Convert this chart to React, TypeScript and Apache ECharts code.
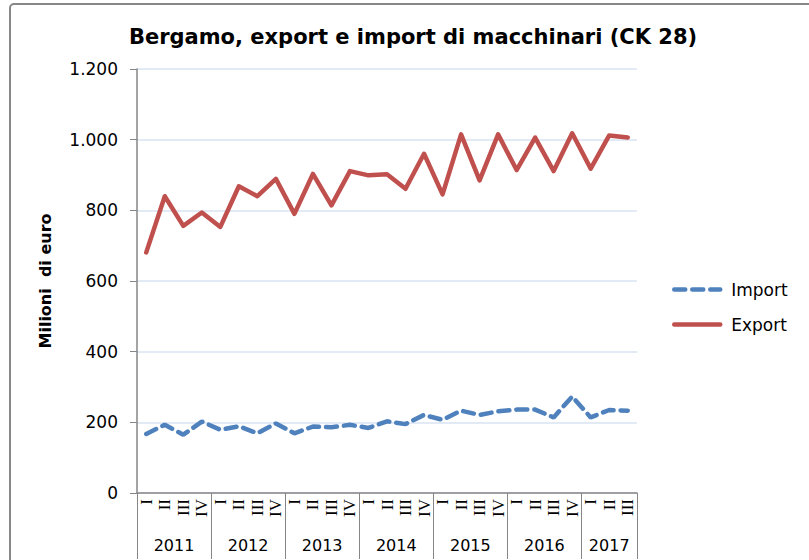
import React, { useEffect, useRef } from "react";
import * as echarts from "echarts";

const quarters = [
  "I","II","III","IV","I","II","III","IV","I","II","III","IV","I","II","III","IV",
  "I","II","III","IV","I","II","III","IV","I","II","III",
];
const years = ["2011", "2012", "2013", "2014", "2015", "2016", "2017"];
const yearBounds = [0, 4, 8, 12, 16, 20, 24, 27];
const importValues = [167,193,165,202,179,189,169,197,169,188,186,193,184,203,195,221,207,233,221,231,236,236,214,273,214,235,233];
const exportValues = [681,840,756,794,753,868,840,889,790,903,814,911,899,902,861,960,845,1015,885,1015,914,1006,911,1018,918,1012,1006];

const fmt = (v: number) => String(v).replace(/\B(?=(\d{3})+(?!\d))/g, ".");

export default function App() {
  const ref = useRef<HTMLDivElement>(null);
  useEffect(() => {
    const chart = echarts.init(ref.current!, null, { renderer: "svg" });
    const yearCenters = years.map((_, i) => (yearBounds[i] + yearBounds[i + 1]) / 2);
    chart.setOption({
      animation: false,
      backgroundColor: "#fff",
      title: {
        text: "Bergamo, export e import di macchinari (CK 28)",
        left: 408,
        textAlign: "center",
        top: 21,
        textStyle: { fontFamily: "DejaVu Sans", fontWeight: "bold", fontSize: 21, color: "#000" },
      },
      graphic: [
        {
          type: "rect",
          shape: { x: 10, y: 4, width: 900, height: 700, r: 4 },
          style: { fill: "none", stroke: "#888", lineWidth: 2 },
          silent: true,
        },
      ],
      legend: {
        orient: "vertical",
        left: 667,
        top: 276,
        itemWidth: 46,
        itemHeight: 14,
        itemGap: 18,
        itemStyle: { opacity: 0 },
        lineStyle: { width: 4.5 },
        textStyle: { fontFamily: "DejaVu Sans", fontSize: 17, color: "#000", padding: [0, 0, 0, 6] },
        data: ["Import", "Export"],
      },
      grid: { left: 137, right: 172, top: 69, bottom: 67, containLabel: false },
      xAxis: [
        {
          type: "category",
          data: quarters,
          boundaryGap: true,
          axisLine: { lineStyle: { color: "#868686", width: 1.5 } },
          axisTick: { interval: 0, length: 28, lineStyle: { color: "#868686" } },
          axisLabel: {
            interval: 0,
            rotate: 90,
            margin: 6,
            fontFamily: "Liberation Serif",
            fontSize: 17,
            color: "#000",
          },
        },
        {
          type: "value",
          min: 0,
          max: 27,
          position: "bottom",
          axisLine: { show: false },
          splitLine: { show: false },
          axisTick: {
            show: true,
            length: 66,
            customValues: yearBounds,
            lineStyle: { color: "#868686" },
          },
          axisLabel: {
            customValues: yearCenters,
            margin: 44,
            fontFamily: "DejaVu Sans",
            fontSize: 16,
            color: "#000",
            formatter: (v: number) => {
              const i = yearCenters.indexOf(v);
              return i >= 0 ? years[i] : "";
            },
          },
        },
      ],
      yAxis: {
        type: "value",
        min: 0,
        max: 1200,
        interval: 200,
        name: "Milioni  di euro",
        nameLocation: "middle",
        nameGap: 84,
        nameTextStyle: { fontFamily: "DejaVu Sans", fontWeight: "bold", fontSize: 16, color: "#000" },
        axisLine: { show: true, lineStyle: { color: "#868686", width: 1.5 } },
        axisTick: { show: true, length: 7, lineStyle: { color: "#868686" } },
        axisLabel: {
          margin: 19,
          fontFamily: "DejaVu Sans",
          fontSize: 17,
          color: "#000",
          formatter: (v: number) => fmt(v),
        },
        splitLine: { lineStyle: { color: "#d9e3f3", width: 1.5 } },
      },
      series: [
        {
          name: "Import",
          type: "line",
          data: importValues,
          symbol: "none",
          lineStyle: { color: "#4f81bd", width: 4.5, type: [11, 7], cap: "round" },
          itemStyle: { color: "#4f81bd" },
        },
        {
          name: "Export",
          type: "line",
          data: exportValues,
          symbol: "none",
          lineStyle: { color: "#c0504d", width: 4.5, cap: "round", join: "round" },
          itemStyle: { color: "#c0504d" },
        },
      ],
    });
    return () => chart.dispose();
  }, []);
  return (
    <div
      ref={ref}
      style={{ position: "fixed", left: 0, top: 0, width: 809, height: 560 }}
    />
  );
}
